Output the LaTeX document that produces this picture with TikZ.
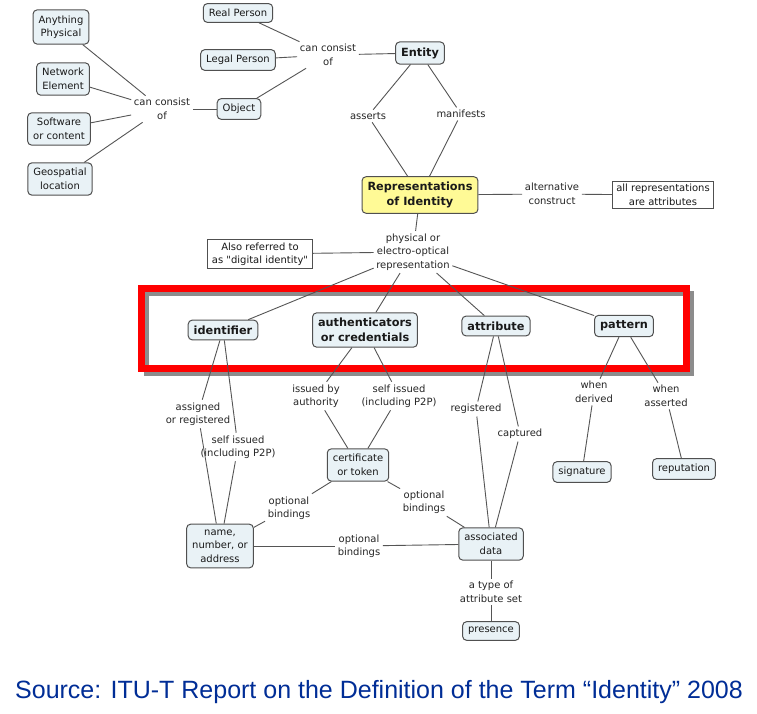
\documentclass[tikz,border=0pt]{standalone}
\usepackage{fontspec}
\setmainfont{DejaVu Sans}[Ligatures=TeXOff]
\newfontfamily\srcfont{Liberation Sans}
\definecolor{cfill}{RGB}{233,242,246}
\definecolor{repfill}{RGB}{255,250,150}
\definecolor{srcblue}{RGB}{0,45,150}
\definecolor{lncol}{RGB}{85,85,85}
\definecolor{boxcol}{RGB}{80,80,80}
\begin{document}
\begin{tikzpicture}[x=1pt,y=-1pt,
  lbl/.style={font=\fontsize{10}{13.5}\selectfont, align=center, inner sep=2.5pt, text=black!85},
  cpt/.style={draw=boxcol, fill=cfill, rounded corners=4pt, line width=1pt, align=center,
     font=\fontsize{10}{13.5}\selectfont, inner xsep=5.5pt, inner ysep=5.5pt, text=black!90},
  bcpt/.style={cpt, font=\bfseries\fontsize{11.3}{14.5}\selectfont, inner ysep=5.5pt},
  rbox/.style={draw=boxcol, fill=white, line width=0.9pt, align=center,
     font=\fontsize{10}{13.5}\selectfont, inner xsep=4pt, inner ysep=2.5pt, text=black!90},
  ln/.style={draw=lncol, line width=0.9pt}]
\useasboundingbox (0,0) rectangle (757,714);
\fill[white] (0,0) rectangle (757,714);

% red frame
\draw[black!45, line width=5pt] (146,293.5) rectangle (691.5,373.5);
\draw[red, line width=7pt] (141,288.5) rectangle (686.5,368.5);

% top-left concepts
\node[cpt] (phys1) at (61,27) {Anything\\Physical};
\node[cpt] (netel) at (63,79) {Network\\Element};
\node[cpt] (soft) at (59,129) {Software\\or content};
\node[cpt] (geo) at (60,179) {Geospatial\\location};
\node[lbl] (cc1) at (162,109) {can consist\\of};
\node[cpt] (obj) at (239,109) {Object};
\node[cpt] (real) at (238,13) {Real Person};
\node[cpt] (legal) at (238,60) {Legal Person};
\node[lbl] (cc2) at (328,55) {can consist\\of};
\node[bcpt] (entity) at (420,53) {Entity};
\node[lbl] (asserts) at (368,116) {asserts};
\node[lbl] (manif) at (461,114) {manifests};
\node[bcpt, fill=repfill] (rep) at (420,195) {Representations\\of Identity};
\node[lbl] (alt) at (552,194) {alternative\\construct};
\node[rbox] (allrep) at (663,195) {all representations\\are attributes};
\node[lbl] (phys) at (413,252) {physical or\\electro-optical\\representation};
\node[rbox] (also) at (260,254) {Also referred to\\as "digital identity"};

% middle concepts
\node[bcpt] (ident) at (223,330) {identifier};
\node[bcpt] (auth) at (365,330) {authenticators\\or credentials};
\node[bcpt] (attr) at (496,326) {attribute};
\node[bcpt] (patt) at (624,326) {pattern};

% lower part
\node[lbl] (assig) at (198,414) {assigned\\or registered};
\node[lbl] (self1) at (238,447) {self issued\\(including P2P)};
\node[cpt] (name) at (220,546) {name,\\number, or\\address};
\node[lbl] (issued) at (316,396) {issued by\\authority};
\node[lbl] (self2) at (399,396) {self issued\\(including P2P)};
\node[cpt] (cert) at (358,465) {certificate\\or token};
\node[lbl] (ob1) at (289,508) {optional\\bindings};
\node[lbl] (ob2) at (424,502) {optional\\bindings};
\node[lbl] (ob3) at (359,546) {optional\\bindings};
\node[cpt] (assoc) at (491,544) {associated\\data};
\node[lbl] (regd) at (476,409) {registered};
\node[lbl] (capt) at (520,434) {captured};
\node[lbl] (atype) at (491,592) {a type of\\attribute set};
\node[cpt] (pres) at (491,631) {presence};
\node[lbl] (whend) at (594,392) {when\\derived};
\node[lbl] (whena) at (666,396) {when\\asserted};
\node[cpt] (sig) at (582,472) {signature};
\node[cpt] (rept) at (684,469) {reputation};

% source
\node[font=\srcfont\fontsize{25}{29}\selectfont, text=srcblue, inner sep=0pt] (src) at (379,692)
  {Source: ITU-T Report on the Definition of the Term “Identity” 2008};

% connectors
\draw[ln] (phys1) -- (cc1);
\draw[ln] (netel) -- (cc1);
\draw[ln] (soft) -- (cc1);
\draw[ln] (geo) -- (cc1);
\draw[ln] (cc1) -- (obj);
\draw[ln] (real) -- (cc2);
\draw[ln] (legal) -- (cc2);
\draw[ln] (obj) -- (cc2);
\draw[ln] (cc2) -- (entity);
\draw[ln] (entity) -- (asserts);
\draw[ln] (asserts) -- (rep);
\draw[ln] (entity) -- (manif);
\draw[ln] (manif) -- (rep);
\draw[ln] (rep) -- (alt);
\draw[ln] (alt) -- (allrep);
\draw[ln] (rep) -- (phys);
\draw[ln] (phys) -- (also);
\draw[ln] (phys) -- (ident);
\draw[ln] (phys) -- (auth);
\draw[ln] (phys) -- (attr);
\draw[ln] (phys) -- (patt);
\draw[ln] (ident) -- (assig);
\draw[ln] (assig) -- (name);
\draw[ln] (ident) -- (self1);
\draw[ln] (self1) -- (name);
\draw[ln] (auth) -- (issued);
\draw[ln] (issued) -- (cert);
\draw[ln] (auth) -- (self2);
\draw[ln] (self2) -- (cert);
\draw[ln] (cert) -- (ob1);
\draw[ln] (ob1) -- (name);
\draw[ln] (cert) -- (ob2);
\draw[ln] (ob2) -- (assoc);
\draw[ln] (name) -- (ob3);
\draw[ln] (ob3) -- (assoc);
\draw[ln] (attr) -- (regd);
\draw[ln] (regd) -- (assoc);
\draw[ln] (attr) -- (capt);
\draw[ln] (capt) -- (assoc);
\draw[ln] (assoc) -- (atype);
\draw[ln] (atype) -- (pres);
\draw[ln] (patt) -- (whend);
\draw[ln] (whend) -- (sig);
\draw[ln] (patt) -- (whena);
\draw[ln] (whena) -- (rept);
\end{tikzpicture}
\end{document}
